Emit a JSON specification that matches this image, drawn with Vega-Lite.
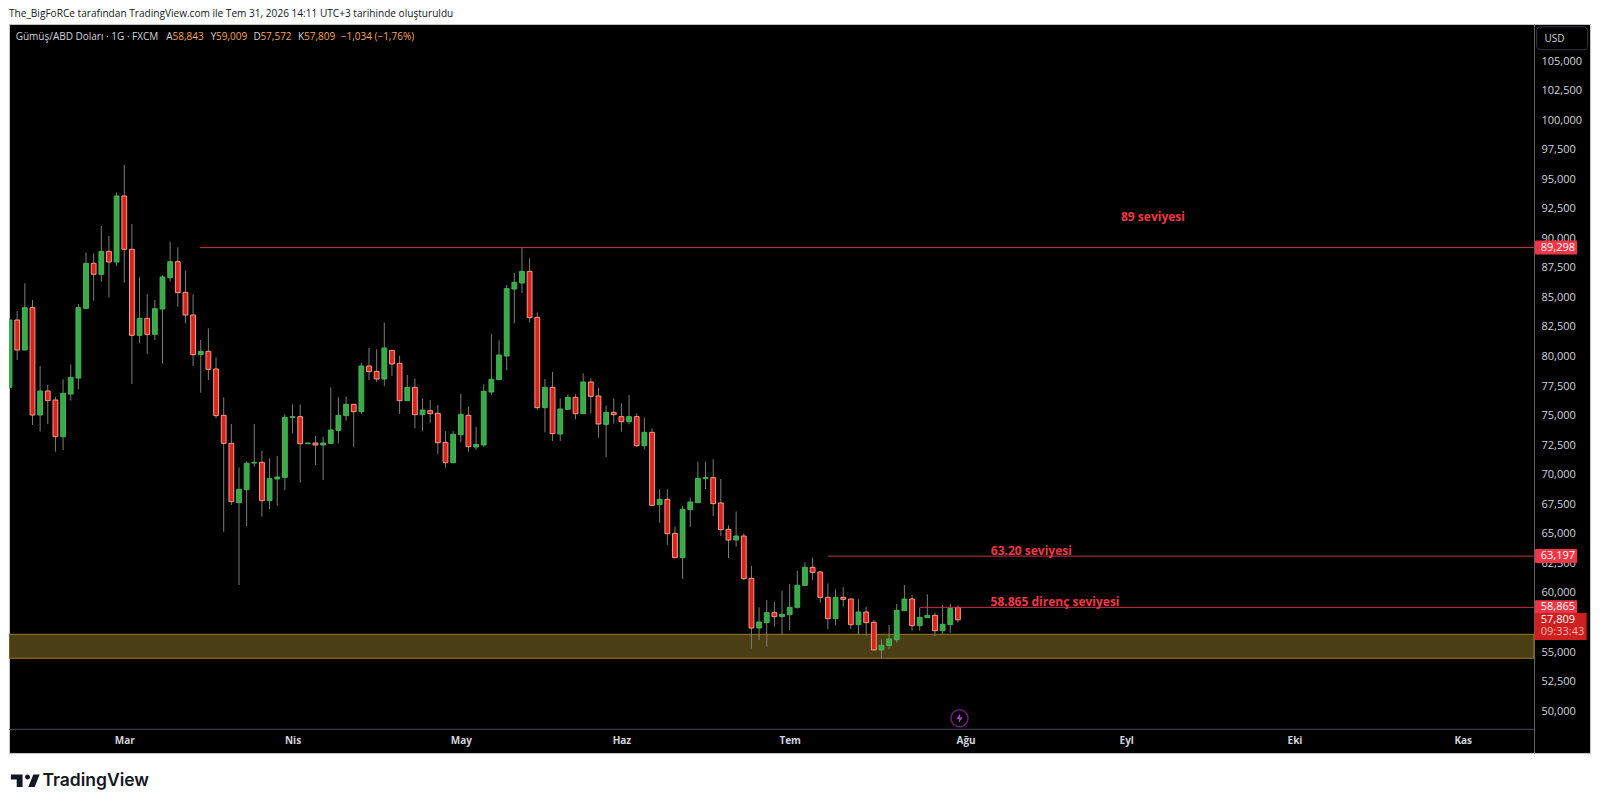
{
  "$schema": "https://vega.github.io/schema/vega-lite/v6.json",
  "width": 1581,
  "height": 729,
  "autosize": {"type": "none"},
  "padding": {"left": 9, "top": 24, "right": 10, "bottom": 53},
  "background": "#ffffff",
  "view": {"fill": "#000000", "stroke": "#c4c4c4", "strokeWidth": 1},
  "title": {
    "text": "The_BigFoRCe tarafından TradingView.com ile Tem 31, 2026 14:11 UTC+3 tarihinde oluşturuldu",
    "anchor": "start",
    "frame": "group",
    "offset": 5,
    "font": "Open Sans",
    "fontSize": 10.1,
    "fontWeight": "normal",
    "color": "#131722"
  },
  "datasets": {
    "candles": [
      {"i":0,"o":77477,"h":83314,"l":77392,"c":83173},
      {"i":1,"o":83173,"h":83934,"l":79789,"c":80635},
      {"i":2,"o":80635,"h":86275,"l":80635,"c":84216},
      {"i":3,"o":84216,"h":84865,"l":74290,"c":75136},
      {"i":4,"o":75136,"h":79281,"l":73726,"c":77166},
      {"i":5,"o":77166,"h":77674,"l":74375,"c":76349},
      {"i":6,"o":76405,"h":76687,"l":72034,"c":73303},
      {"i":7,"o":73303,"h":78153,"l":72175,"c":76969},
      {"i":8,"o":76913,"h":79422,"l":76349,"c":78323},
      {"i":9,"o":78266,"h":84527,"l":77307,"c":84216},
      {"i":10,"o":84160,"h":88898,"l":84160,"c":87967},
      {"i":11,"o":87967,"h":88813,"l":84809,"c":87036},
      {"i":12,"o":87036,"h":91125,"l":86416,"c":88982},
      {"i":13,"o":88982,"h":90279,"l":85091,"c":88080},
      {"i":14,"o":88080,"h":93974,"l":87741,"c":93663},
      {"i":15,"o":93663,"h":96286,"l":86331,"c":89151},
      {"i":16,"o":89151,"h":91295,"l":77759,"c":81876},
      {"i":17,"o":81876,"h":86783,"l":81199,"c":83314},
      {"i":18,"o":83314,"h":85373,"l":80297,"c":81960},
      {"i":19,"o":81960,"h":84865,"l":81481,"c":84132},
      {"i":20,"o":84104,"h":86952,"l":79507,"c":86811},
      {"i":21,"o":86755,"h":89800,"l":86416,"c":88108},
      {"i":22,"o":88108,"h":89321,"l":84301,"c":85485},
      {"i":23,"o":85514,"h":87347,"l":82891,"c":83596},
      {"i":24,"o":83596,"h":85344,"l":79281,"c":80240},
      {"i":25,"o":80240,"h":81481,"l":77025,"c":80522},
      {"i":26,"o":80522,"h":82468,"l":78097,"c":78999},
      {"i":27,"o":79028,"h":80015,"l":74854,"c":75080},
      {"i":28,"o":75108,"h":76631,"l":65266,"c":72739},
      {"i":29,"o":72739,"h":74375,"l":67522,"c":67804},
      {"i":30,"o":67719,"h":70709,"l":60754,"c":68847},
      {"i":31,"o":68819,"h":71216,"l":65745,"c":71047},
      {"i":32,"o":71075,"h":74375,"l":70765,"c":71132},
      {"i":33,"o":71132,"h":72119,"l":66535,"c":67889},
      {"i":34,"o":67889,"h":71470,"l":67184,"c":69750},
      {"i":35,"o":69722,"h":71667,"l":67466,"c":69891},
      {"i":36,"o":69863,"h":75193,"l":68791,"c":74939},
      {"i":37,"o":74939,"h":76038,"l":73585,"c":74995},
      {"i":38,"o":74995,"h":76038,"l":69411,"c":72711},
      {"i":39,"o":72711,"h":72767,"l":72711,"c":72767},
      {"i":40,"o":72767,"h":73359,"l":70906,"c":72598},
      {"i":41,"o":72598,"h":73303,"l":69637,"c":72767},
      {"i":42,"o":72739,"h":77477,"l":72739,"c":73867},
      {"i":43,"o":73839,"h":76631,"l":72739,"c":75108},
      {"i":44,"o":75080,"h":76687,"l":74657,"c":76038},
      {"i":45,"o":76038,"h":76038,"l":72457,"c":75418},
      {"i":46,"o":75418,"h":79563,"l":75221,"c":79281},
      {"i":47,"o":79281,"h":80804,"l":78097,"c":78802},
      {"i":48,"o":78830,"h":80691,"l":77900,"c":78182},
      {"i":49,"o":78182,"h":82947,"l":77589,"c":80804},
      {"i":50,"o":80607,"h":80607,"l":78435,"c":79451},
      {"i":51,"o":79507,"h":80156,"l":75221,"c":76349},
      {"i":52,"o":76349,"h":78520,"l":76349,"c":77477},
      {"i":53,"o":77477,"h":78238,"l":74008,"c":75164},
      {"i":54,"o":75164,"h":76546,"l":73754,"c":75559},
      {"i":55,"o":75503,"h":76405,"l":74487,"c":75249},
      {"i":56,"o":75277,"h":75982,"l":71837,"c":72795},
      {"i":57,"o":72824,"h":73782,"l":70680,"c":71103},
      {"i":58,"o":71103,"h":73782,"l":71103,"c":73500},
      {"i":59,"o":73472,"h":76913,"l":72824,"c":75192},
      {"i":60,"o":75108,"h":75869,"l":72034,"c":72457},
      {"i":61,"o":72429,"h":74121,"l":72203,"c":72654},
      {"i":62,"o":72598,"h":77730,"l":72429,"c":77138},
      {"i":63,"o":77082,"h":81989,"l":76828,"c":78153},
      {"i":64,"o":78125,"h":81453,"l":78125,"c":80212},
      {"i":65,"o":80127,"h":86134,"l":78915,"c":85824},
      {"i":66,"o":85796,"h":87149,"l":82891,"c":86360},
      {"i":67,"o":86303,"h":89298,"l":85457,"c":87290},
      {"i":68,"o":87290,"h":88390,"l":82976,"c":83370},
      {"i":69,"o":83399,"h":83822,"l":75587,"c":75756},
      {"i":70,"o":75756,"h":78182,"l":73670,"c":77477},
      {"i":71,"o":77477,"h":78774,"l":72936,"c":73557},
      {"i":72,"o":73529,"h":76546,"l":72936,"c":75644},
      {"i":73,"o":75615,"h":76884,"l":75615,"c":76631},
      {"i":74,"o":76631,"h":76884,"l":74769,"c":75249},
      {"i":75,"o":75249,"h":78661,"l":75249,"c":77928},
      {"i":76,"o":77928,"h":78238,"l":75277,"c":76715},
      {"i":77,"o":76743,"h":77448,"l":73218,"c":74375},
      {"i":78,"o":74346,"h":75926,"l":71583,"c":75362},
      {"i":79,"o":75362,"h":76546,"l":74403,"c":75164},
      {"i":80,"o":74995,"h":76123,"l":73726,"c":74572},
      {"i":81,"o":74572,"h":76828,"l":74346,"c":74995},
      {"i":82,"o":74995,"h":75277,"l":72429,"c":72542},
      {"i":83,"o":72542,"h":74910,"l":72260,"c":73670},
      {"i":84,"o":73670,"h":74008,"l":67437,"c":67494},
      {"i":85,"o":67550,"h":68847,"l":66027,"c":68001},
      {"i":86,"o":68001,"h":68847,"l":64138,"c":65097},
      {"i":87,"o":65125,"h":65689,"l":63066,"c":63066},
      {"i":88,"o":63066,"h":67437,"l":61262,"c":67155},
      {"i":89,"o":67127,"h":68143,"l":65689,"c":67776},
      {"i":90,"o":67720,"h":71188,"l":67720,"c":69778},
      {"i":91,"o":69750,"h":71188,"l":68876,"c":69863},
      {"i":92,"o":69835,"h":71385,"l":66592,"c":67635},
      {"i":93,"o":67691,"h":69722,"l":64899,"c":65435},
      {"i":94,"o":65463,"h":65802,"l":63038,"c":64561},
      {"i":95,"o":64561,"h":66986,"l":63997,"c":64899},
      {"i":96,"o":64899,"h":65125,"l":61177,"c":61290},
      {"i":97,"o":61318,"h":62361,"l":55396,"c":57116},
      {"i":98,"o":57116,"h":58865,"l":56101,"c":57624},
      {"i":99,"o":57567,"h":59485,"l":55537,"c":58413},
      {"i":100,"o":58413,"h":59316,"l":57229,"c":58075},
      {"i":101,"o":58075,"h":60275,"l":56496,"c":58272},
      {"i":102,"o":58244,"h":60839,"l":56947,"c":58865},
      {"i":103,"o":58865,"h":61967,"l":58752,"c":60726},
      {"i":104,"o":60726,"h":62672,"l":60669,"c":62249},
      {"i":105,"o":62249,"h":63066,"l":61177,"c":61826},
      {"i":106,"o":61854,"h":61910,"l":59259,"c":59711},
      {"i":107,"o":59711,"h":60895,"l":57004,"c":57906},
      {"i":108,"o":57906,"h":60387,"l":57370,"c":59711},
      {"i":109,"o":59711,"h":60557,"l":58921,"c":59541},
      {"i":110,"o":59569,"h":59569,"l":57060,"c":57398},
      {"i":111,"o":57398,"h":59541,"l":56524,"c":58470},
      {"i":112,"o":58470,"h":58921,"l":56440,"c":57567},
      {"i":113,"o":57596,"h":57793,"l":55255,"c":55255},
      {"i":114,"o":55255,"h":56157,"l":54550,"c":55650},
      {"i":115,"o":55622,"h":57370,"l":55311,"c":56186},
      {"i":116,"o":56129,"h":59147,"l":55876,"c":58611},
      {"i":117,"o":58583,"h":60754,"l":58583,"c":59569},
      {"i":118,"o":59569,"h":59908,"l":56891,"c":57313},
      {"i":119,"o":57313,"h":58836,"l":56891,"c":58019},
      {"i":120,"o":57990,"h":59965,"l":57990,"c":58188},
      {"i":121,"o":58188,"h":58413,"l":56440,"c":56891},
      {"i":122,"o":56891,"h":59062,"l":56524,"c":57427},
      {"i":123,"o":57398,"h":59147,"l":56722,"c":58780},
      {"i":124,"o":58843,"h":59009,"l":57572,"c":57809}
    ],
    "levels": [
      {"i":24.9,"to":199.3,"price":89298},
      {"i":107,"to":199.3,"price":63197},
      {"i":119,"to":199.3,"price":58865}
    ],
    "notes": [
      {"i":149.5,"price":91900,"label":"89 seviyesi"},
      {"i":133.6,"price":63640,"label":"63.20 seviyesi"},
      {"i":136.7,"price":59330,"label":"58.865 direnç seviyesi"}
    ],
    "tags": [
      {"i":202.2,"price":89298},
      {"i":202.2,"price":63197},
      {"i":202.2,"price":58865}
    ],
    "tagText": [
      {"i":200.2,"price":89298,"label":"89,298"},
      {"i":200.2,"price":63197,"label":"63,197"},
      {"i":200.2,"price":58865,"label":"58,865"},
      {"i":200.2,"price":57809,"label":"57,809"}
    ],
    "headerNames": [
      {"i":0.8,"label":"Gümüş/ABD Doları · 1G · FXCM"},
      {"i":20.5,"label":"A"},
      {"i":26.3,"label":"Y"},
      {"i":31.9,"label":"D"},
      {"i":37.7,"label":"K"}
    ],
    "headerValues": [
      {"i":21.3,"label":"58,843"},
      {"i":27.0,"label":"59,009"},
      {"i":32.8,"label":"57,572"},
      {"i":38.5,"label":"57,809"},
      {"i":43.3,"label":"−1,034 (−1,76%)"}
    ]
  },
  "data": {"name": "candles"},
  "encoding": {
    "x": {
      "field": "i",
      "type": "quantitative",
      "title": null,
      "scale": {"domain": [-0.07, 206.64], "nice": false, "zero": false, "padding": 0},
      "axis": {
        "orient": "bottom",
        "offset": -24,
        "grid": false,
        "domain": false,
        "ticks": false,
        "values": [15, 37, 59, 80, 102, 125, 146, 168, 190],
        "labelExpr": "{'15':'Mar','37':'Nis','59':'May','80':'Haz','102':'Tem','125':'Ağu','146':'Eyl','168':'Eki','190':'Kas'}[datum.value]",
        "labelColor": "#d1d4dc",
        "labelFont": "Open Sans",
        "labelFontSize": 10,
        "labelFontWeight": "bold",
        "labelPadding": 6,
        "labelOverlap": false
      }
    },
    "y": {
      "type": "quantitative",
      "title": null,
      "scale": {"domain": [46541, 108215], "nice": false, "zero": false},
      "axis": {
        "orient": "right",
        "offset": -56,
        "grid": false,
        "ticks": false,
        "domain": true,
        "domainColor": "#5d606b",
        "values": [50000, 52500, 55000, 57500, 60000, 62500, 65000, 67500, 70000, 72500, 75000, 77500, 80000, 82500, 85000, 87500, 90000, 92500, 95000, 97500, 100000, 102500, 105000],
        "format": ",d",
        "labelColor": "#d1d4dc",
        "labelFont": "Open Sans",
        "labelFontSize": 11,
        "labelPadding": 7,
        "labelOffset": -1,
        "labelOverlap": false
      }
    }
  },
  "layer": [
    {
      "data": {"values": [{"i": -0.07, "to": 199.3, "top": 56583, "bottom": 54553}]},
      "mark": {"type": "rect", "fill": "#4a3f14", "stroke": "#a0761e", "strokeWidth": 1, "clip": true},
      "encoding": {
        "x2": {"field": "to"},
        "y": {"field": "top", "type": "quantitative"},
        "y2": {"field": "bottom"}
      }
    },
    {
      "data": {"values": [{"i": -0.07, "to": 199.3, "price": 48545}]},
      "mark": {"type": "rule", "color": "#4a4c55", "strokeWidth": 1},
      "encoding": {
        "x2": {"field": "to"},
        "y": {"field": "price", "type": "quantitative"}
      }
    },
    {
      "mark": {"type": "rule", "color": "#7c7c7c", "strokeWidth": 1, "clip": true},
      "encoding": {
        "y": {"field": "l", "type": "quantitative"},
        "y2": {"field": "h"}
      }
    },
    {
      "transform": [{"calculate": "datum.c >= datum.o ? 'up' : 'down'", "as": "dir"}],
      "mark": {"type": "bar", "size": 4.8, "strokeWidth": 1, "clip": true, "orient": "vertical"},
      "encoding": {
        "y": {"field": "o", "type": "quantitative"},
        "y2": {"field": "c"},
        "fill": {"field": "dir", "type": "nominal", "legend": null, "scale": {"domain": ["up", "down"], "range": ["#3aaa48", "#d9241c"]}},
        "stroke": {"field": "dir", "type": "nominal", "legend": null, "scale": {"domain": ["up", "down"], "range": ["#45b556", "#f79a88"]}}
      }
    },
    {
      "data": {"name": "levels"},
      "mark": {"type": "rule", "color": "#c8354a", "strokeWidth": 1},
      "encoding": {
        "x2": {"field": "to"},
        "y": {"field": "price", "type": "quantitative"}
      }
    },
    {
      "data": {"name": "notes"},
      "mark": {"type": "text", "color": "#f23645", "font": "Open Sans", "fontSize": 12, "fontWeight": "bold", "align": "center", "baseline": "middle"},
      "encoding": {
        "y": {"field": "price", "type": "quantitative"},
        "text": {"field": "label"}
      }
    },
    {
      "data": {"name": "tags"},
      "mark": {"type": "rect", "color": "#f23645", "width": 42, "height": 14, "cornerRadius": 1},
      "encoding": {
        "y": {"field": "price", "type": "quantitative"}
      }
    },
    {
      "data": {"values": [{"i": 202.8, "price": 57243}]},
      "mark": {"type": "rect", "color": "#d01f1f", "width": 52, "height": 27},
      "encoding": {
        "y": {"field": "price", "type": "quantitative"}
      }
    },
    {
      "data": {"name": "tagText"},
      "mark": {"type": "text", "color": "#ffffff", "font": "Open Sans", "fontSize": 11, "align": "left", "baseline": "middle"},
      "encoding": {
        "y": {"field": "price", "type": "quantitative"},
        "text": {"field": "label"}
      }
    },
    {
      "data": {"values": [{"i": 200.2, "price": 56778, "label": "09:33:43"}]},
      "mark": {"type": "text", "color": "#f2b8b0", "font": "Open Sans", "fontSize": 11, "align": "left", "baseline": "middle"},
      "encoding": {
        "y": {"field": "price", "type": "quantitative"},
        "text": {"field": "label"}
      }
    },
    {
      "data": {"values": [{"i": 203, "price": 107005}]},
      "mark": {"type": "rect", "fill": "#000000", "stroke": "#363a45", "strokeWidth": 1, "width": 51, "height": 23, "cornerRadius": 4},
      "encoding": {
        "y": {"field": "price", "type": "quantitative"}
      }
    },
    {
      "data": {"values": [{"i": 200.7, "price": 106950, "label": "USD"}]},
      "mark": {"type": "text", "color": "#d1d4dc", "font": "Open Sans", "fontSize": 10, "align": "left", "baseline": "middle"},
      "encoding": {
        "y": {"field": "price", "type": "quantitative"},
        "text": {"field": "label"}
      }
    },
    {
      "data": {"name": "headerNames"},
      "mark": {"type": "text", "color": "#d1d4dc", "font": "Open Sans", "fontSize": 10, "align": "left", "baseline": "middle"},
      "encoding": {
        "y": {"datum": 107140, "type": "quantitative"},
        "text": {"field": "label"}
      }
    },
    {
      "data": {"name": "headerValues"},
      "mark": {"type": "text", "color": "#f7a35c", "font": "Open Sans", "fontSize": 10, "align": "left", "baseline": "middle"},
      "encoding": {
        "y": {"datum": 107140, "type": "quantitative"},
        "text": {"field": "label"}
      }
    },
    {
      "data": {"values": [{"i": 124.2, "price": 49477}]},
      "mark": {"type": "point", "shape": "circle", "filled": false, "size": 289, "stroke": "#9c27b0", "strokeWidth": 1.5},
      "encoding": {
        "y": {"field": "price", "type": "quantitative"}
      }
    },
    {
      "data": {"values": [{"i": 124.2, "price": 49477}]},
      "mark": {"type": "point", "shape": "M0.15 -1 L-0.6 0.15 L-0.05 0.15 L-0.15 1 L0.6 -0.2 L0.05 -0.2 Z", "filled": true, "size": 100, "fill": "#b040d0", "opacity": 1},
      "encoding": {
        "y": {"field": "price", "type": "quantitative"}
      }
    },
    {
      "data": {"values": [{"i": 2.03, "price": 44200}]},
      "mark": {"type": "point", "shape": "M-0.176 -0.441 H-1 V-0.088 H-0.588 V0.441 H-0.176 Z M0.676 0.441 H0.229 L0.582 -0.441 H1.029 Z M0.176 -0.441 A0.176 0.176 0 1 1 0.176 -0.088 A0.176 0.176 0 1 1 0.176 -0.441 Z", "filled": true, "size": 806, "fill": "#131722", "opacity": 1},
      "encoding": {
        "y": {"field": "price", "type": "quantitative"}
      }
    },
    {
      "data": {"values": [{"i": 4.3, "price": 44150, "label": "TradingView"}]},
      "mark": {"type": "text", "color": "#131722", "font": "Inter", "fontSize": 17.5, "fontWeight": 600, "align": "left", "baseline": "middle"},
      "encoding": {
        "y": {"field": "price", "type": "quantitative"},
        "text": {"field": "label"}
      }
    }
  ]
}
